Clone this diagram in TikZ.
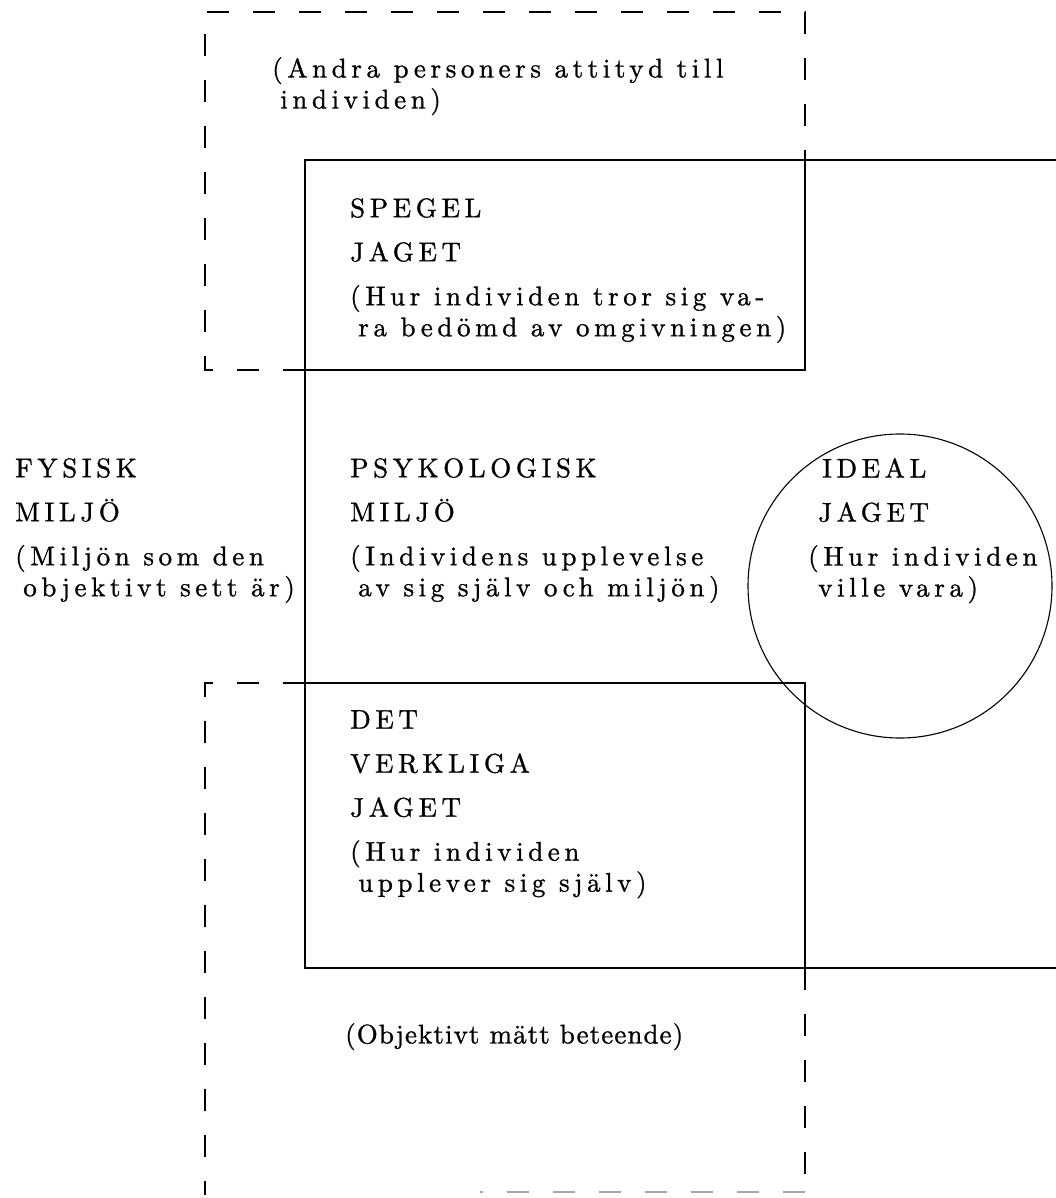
\documentclass[tikz,border=0pt]{standalone}
\usepackage{fontspec}
\newfontfamily\typed{lmroman10-regular}[Extension=.otf,LetterSpace=17,FakeBold=1]
\newfontfamily\typedtight{lmroman10-regular}[Extension=.otf,LetterSpace=4,FakeBold=1]
\tikzset{
  wall/.style={line width=2.2pt, line cap=round},
  open/.style={line width=1.4pt, dash pattern=on 22pt off 24pt},
  lbl/.style={anchor=north west, align=left, inner sep=0pt,
    font=\typed\fontsize{27}{31}\selectfont},
}

\begin{document}
\begin{tikzpicture}[x=1pt,y=-1pt]
          \useasboundingbox (0,0) rectangle (1056,1198);
          % the other people's view (dashed, top)
          \draw[open] (305,370) -- (205,370) -- (205,12) -- (805,12) -- (805,160);
          % behaviour (dashed, bottom)
          \draw[open] (305,683) -- (205,683) -- (205,1195);
          \draw[open] (805,968) -- (805,1192);
          \draw[open, black!35] (805,1192) -- (480,1192);
          % solid frame
          \draw[wall] (305,160) -- (1056,160);
          \draw[wall] (305,160) -- (305,968);
          \draw[wall] (805,160) -- (805,370) -- (305,370);
          \draw[wall] (305,683) -- (805,683) -- (805,968);
          \draw[wall] (305,968) -- (1056,968);
          \draw[line width=1.1pt] (900,586) circle (152pt);

          \node[lbl] (andra) at (272,57) {(Andra personers attityd till\\ \hspace*{0.3em}individen)};
          \node[lbl] (spegel) at (350,198) {SPEGEL\\[13pt] JAGET\\[13pt]
            (Hur individen tror sig va-\\ \hspace*{0.3em}ra bedömd av omgivningen)};
          \node[lbl] (fysisk) at (15,458) {FYSISK\\[13pt] MILJÖ\\[13pt]
            (Miljön som den\\ \hspace*{0.3em}objektivt sett är)};
          \node[lbl] (psyk) at (350,458) {PSYKOLOGISK\\[13pt] MILJÖ\\[13pt]
            (Individens upplevelse\\ \hspace*{0.3em}av sig själv och miljön)};
          \node[lbl] (ideal) at (808,458) {\hspace*{14pt}IDEAL\\[13pt] \hspace*{10pt}JAGET\\[13pt]
            (Hur individen\\ \hspace*{10pt}ville vara)};
          \node[lbl] (verklig) at (350,710) {DET\\[13pt] VERKLIGA\\[13pt] JAGET\\[13pt]
            (Hur individen\\ \hspace*{0.3em}upplever sig själv)};
          \node[lbl, font=\typedtight\fontsize{27}{31}\selectfont]
            (beteende) at (345,1023) {(Objektivt mätt beteende)};
        \end{tikzpicture}
\end{document}
